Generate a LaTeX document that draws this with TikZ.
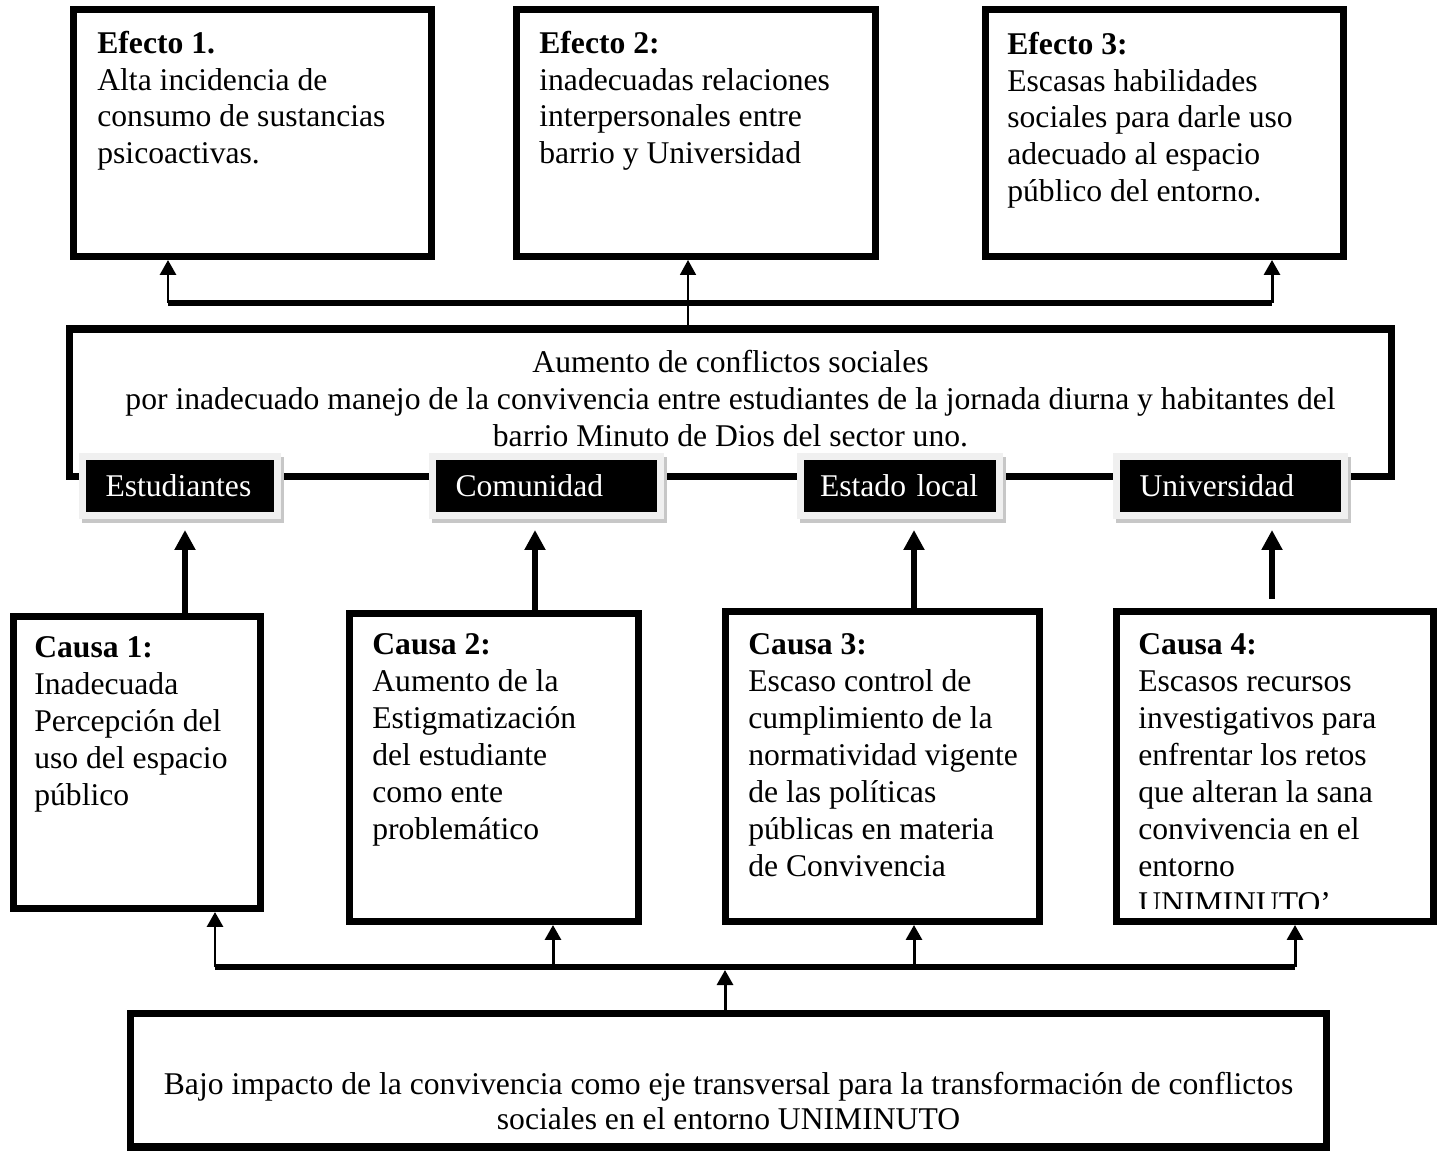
\documentclass[tikz,border=0pt]{standalone}
\usepackage{fontspec}
\setmainfont{Liberation Serif}
\usetikzlibrary{arrows.meta}

\begin{document}
\begin{tikzpicture}[x=0.02cm,y=-0.02cm,
    every node/.style={font=\fontsize{18}{21}\selectfont},
    box/.style={draw,line width=4pt,inner sep=0pt},
    txt/.style={anchor=north west,inner sep=0pt,align=left},
    tag/.style={fill=black,draw=black!6,line width=4pt,text=white,
      minimum height=1.18cm,inner xsep=0.46cm,text width=#1,align=left,
      preaction={fill=black!22,draw=black!22,line width=4pt,
        transform canvas={xshift=0.06cm,yshift=-0.08cm}}},
    bar/.style={line width=3.5pt},
    up/.style={line width=1.7pt,-{Triangle[width=0.32cm,length=0.3cm]}},
    bigup/.style={line width=3.8pt,-{Triangle[width=0.4cm,length=0.4cm]}}]
  \useasboundingbox (0,0) rectangle (1443,1151);

  % efectos
  \node[box,minimum width=7.16cm,minimum height=4.94cm] (e1) at (252.5,133) {};
  \node[box,minimum width=7.18cm,minimum height=4.94cm] (e2) at (696,133) {};
  \node[box,minimum width=7.16cm,minimum height=4.94cm] (e3) at (1164.5,133) {};
  \node[txt] (e1t) at (97,30.5) {\textbf{Efecto 1.}\\Alta incidencia de\\consumo de sustancias\\psicoactivas.};
  \node[txt] (e2t) at (539,30.5) {\textbf{Efecto 2:}\\inadecuadas relaciones\\interpersonales entre\\barrio y Universidad};
  \node[txt] (e3t) at (1007,31.5) {\textbf{Efecto 3:}\\Escasas habilidades\\sociales para darle uso\\adecuado al espacio\\público del entorno.};

  % problema central
  \node[box,minimum width=26.44cm,minimum height=2.96cm] (m) at (730.5,403) {};
  \node[anchor=north,inner sep=0pt,align=center] (mt) at (730.5,350) {Aumento de conflictos sociales\\por inadecuado manejo de la convivencia entre estudiantes de la jornada diurna y habitantes del\\barrio Minuto de Dios del sector uno.};

  \node[tag=2.98cm] (t1) at (180,486) {Estudiantes};
  \node[tag=3.64cm] (t2) at (546.5,486) {Comunidad};
  \node[tag=3.2cm,inner xsep=0.39cm] (t3) at (900,486) {Estado local};
  \node[tag=3.64cm] (t4) at (1230.5,486) {Universidad};

  % causas
  \node[box,minimum width=4.94cm,minimum height=5.84cm] (c1) at (137,762.5) {};
  \node[box,minimum width=5.78cm,minimum height=6.16cm] (c2) at (494,767.5) {};
  \node[box,minimum width=6.28cm,minimum height=6.2cm] (c3) at (882.5,766.5) {};
  \node[box,minimum width=6.34cm,minimum height=6.2cm] (c4) at (1275,766.5) {};
  \node[txt] (c1t) at (34,636.5) {\textbf{Causa 1:}\\Inadecuada\\Percepción del\\uso del espacio\\público};
  \node[txt] (c2t) at (372,633.5) {\textbf{Causa 2:}\\Aumento de la\\Estigmatización\\del estudiante\\como ente\\problemático};
  \node[txt] (c3t) at (748,633.5) {\textbf{Causa 3:}\\Escaso control de\\cumplimiento de la\\normatividad vigente\\de las políticas\\públicas en materia\\de Convivencia};
  \begin{scope}
    \clip (1120,612) rectangle (1430,908);
    \node[txt] (c4t) at (1138,633.5) {\textbf{Causa 4:}\\Escasos recursos\\investigativos para\\enfrentar los retos\\que alteran la sana\\convivencia en el\\entorno\\UNIMINUTO’};
  \end{scope}

  % eje transversal
  \node[box,minimum width=23.94cm,minimum height=2.68cm] (b) at (728.5,1080) {};
  \node[anchor=north,inner sep=0pt,align=center,font=\fontsize{18}{20}\selectfont] (bt) at (728.5,1072) {Bajo impacto de la convivencia como eje transversal para la transformación de conflictos\\sociales en el entorno UNIMINUTO};

  % conexiones arriba
  \coordinate (jt) at (688,303);
  \coordinate (l1) at (168,303);
  \coordinate (r1) at (1272,303);
  \draw[bar] (l1) -- (r1);
  \draw[up] (l1) -- (e1.south -| l1);
  \draw[up] (r1) -- (e3.south -| r1);
  \draw[up,line width=1.1pt] (m.north -| jt) -- (e2.south -| jt);

  % causas a actores
  \coordinate (a1) at (185,530);
  \coordinate (a2) at (535,530);
  \coordinate (a3) at (914,530);
  \coordinate (a4) at (1272,530);
  \coordinate (s4) at (1272,599);
  \draw[bigup] (c1.north -| a1) -- (a1);
  \draw[bigup] (c2.north -| a2) -- (a2);
  \draw[bigup] (c3.north -| a3) -- (a3);
  \draw[bigup] (s4) -- (a4);

  % conexiones abajo
  \coordinate (k1) at (215,967);
  \coordinate (k2) at (553,967);
  \coordinate (k3) at (914,967);
  \coordinate (k4) at (1295,967);
  \coordinate (kb) at (725,970);
  \draw[bar] (k1) -- (k4);
  \foreach \i in {1,...,4}
    \draw[up] (k\i) -- (c\i.south -| k\i);
  \draw[up] (b.north -| kb) -- (kb);
\end{tikzpicture}
\end{document}
